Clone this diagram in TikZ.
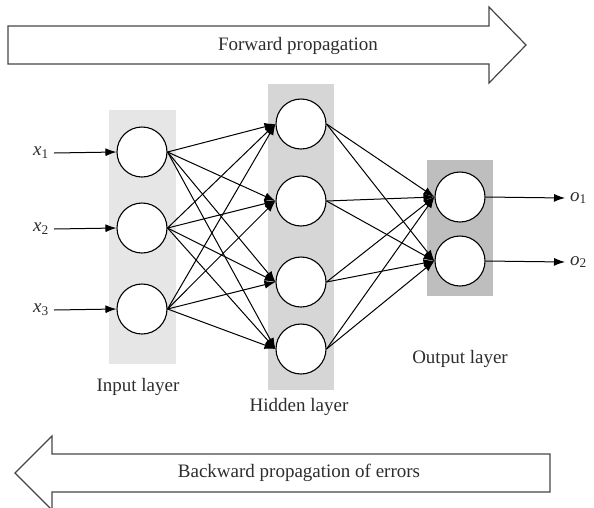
\documentclass[tikz,border=0pt]{standalone}
\usepackage{fontspec}
\setmainfont{Liberation Serif}
\usetikzlibrary{arrows.meta}
\definecolor{inbg}{RGB}{230,230,230}
\definecolor{hidbg}{RGB}{214,214,214}
\definecolor{outbg}{RGB}{190,190,190}
\definecolor{txt}{RGB}{45,45,45}
\definecolor{arrline}{RGB}{70,70,70}
\begin{document}
\begin{tikzpicture}[x=1pt,y=-1pt,
  neuron/.style={circle,draw=black,fill=white,line width=1.1pt,minimum size=50pt,inner sep=0pt},
  conn/.style={line width=1pt,-{Latex[length=11pt,width=8pt]}},
  lbl/.style={font=\fontsize{19}{22}\selectfont,text=txt,inner sep=0pt},
  bigarrow/.style={draw=arrline,line width=1.2pt,fill=white,line join=miter}]
\useasboundingbox (0,0) rectangle (594,507);
% layer backgrounds
\fill[inbg] (109,110) rectangle (176,364);
\fill[hidbg] (268,84) rectangle (334,390);
\fill[outbg] (427,160) rectangle (493,296);
% big arrows
\draw[bigarrow] (8,26) -- (489,26) -- (489,7) -- (526,45) -- (489,83) -- (489,64) -- (8,64) -- cycle;
\node[lbl] (fwd) at (298,46) {Forward propagation};
\draw[bigarrow] (550,454) -- (52,454) -- (52,436) -- (15,473) -- (52,510) -- (52,492) -- (550,492) -- cycle;
\node[lbl] (bwd) at (299,473) {Backward propagation of errors};
% neurons
\node[neuron] (i1) at (142,152) {};
\node[neuron] (i2) at (142,228) {};
\node[neuron] (i3) at (142,309) {};
\node[neuron] (h1) at (301,124) {};
\node[neuron] (h2) at (301,201) {};
\node[neuron] (h3) at (301,282) {};
\node[neuron] (h4) at (301,349) {};
\node[neuron] (o1) at (460,197) {};
\node[neuron] (o2) at (460,261) {};
% inputs / outputs
\node[lbl,anchor=east] (x1) at (49,153) {\textit{x}\textsubscript{1}};
\node[lbl,anchor=east] (x2) at (49,229) {\textit{x}\textsubscript{2}};
\node[lbl,anchor=east] (x3) at (49,310) {\textit{x}\textsubscript{3}};
\node[lbl,anchor=west] (y1) at (570,198) {\textit{o}\textsubscript{1}};
\node[lbl,anchor=west] (y2) at (570,262) {\textit{o}\textsubscript{2}};
\foreach \k in {1,2,3}{
  \draw[conn] ([xshift=5pt]x\k.east) -- (i\k.west);
}
\draw[conn] (o1.east) -- ([xshift=-5pt]y1.west);
\draw[conn] (o2.east) -- ([xshift=-5pt]y2.west);
% connections
\foreach \a in {1,2,3}{
  \foreach \b in {1,2,3,4}{
    \draw[conn] (i\a.east) -- (h\b.west);
  }
}
\foreach \a in {1,2,3,4}{
  \foreach \b in {1,2}{
    \draw[conn] (h\a.east) -- (o\b.west);
  }
}
% layer labels
\node[lbl] (lin) at (138,387) {Input layer};
\node[lbl] (lhid) at (299,407) {Hidden layer};
\node[lbl] (lout) at (460,359) {Output layer};
\end{tikzpicture}
\end{document}
